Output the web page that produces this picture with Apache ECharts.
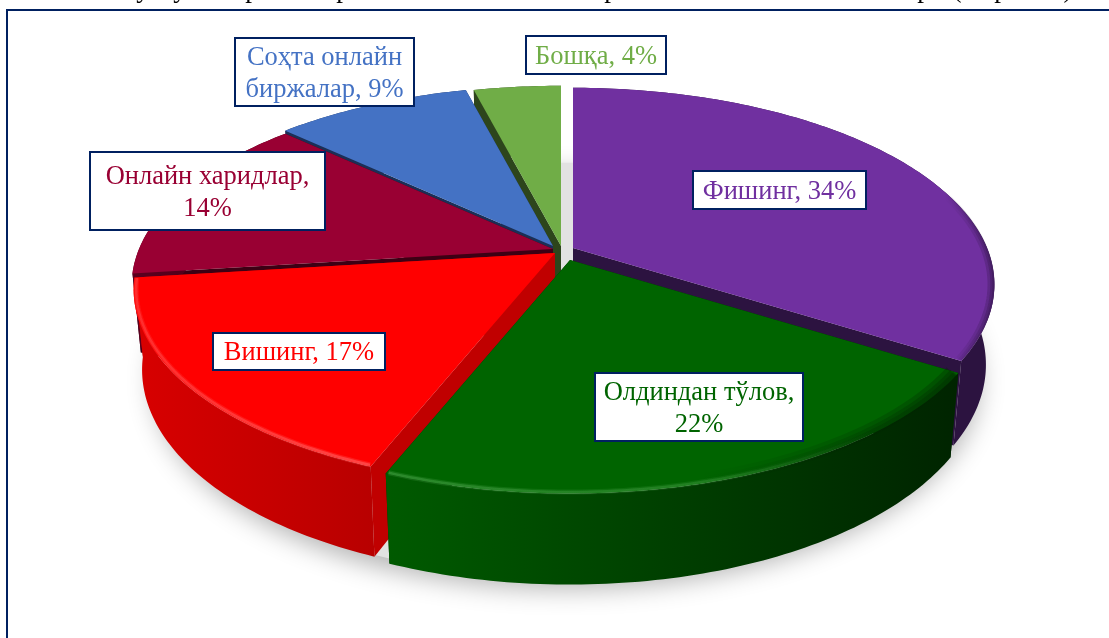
<!DOCTYPE html>
<html><head><meta charset="utf-8">
<style>html,body{margin:0;padding:0;background:#fff}#c{width:1109px;height:638px}</style>
<script src="https://cdn.jsdelivr.net/npm/echarts@6/dist/echarts.min.js"></script>
</head><body><div id="c"></div>
<script>
const categories = ['Фишинг', 'Олдиндан тўлов', 'Вишинг', 'Онлайн харидлар', 'Соҳта онлайн биржалар', 'Бошқа'];
const values = [34, 22, 17, 14, 9, 4];
const labelLines = [['Фишинг, 34%'], ['Олдиндан тўлов,', '22%'], ['Вишинг, 17%'], ['Онлайн харидлар,', '14%'], ['Соҳта онлайн', 'биржалар, 9%'], ['Бошқа, 4%']];
const topColors = ['#7030A0', '#006400', '#FF0000', '#990033', '#4472C4', '#70AD47'];
const textColors = ['#7030A0', '#006400', '#FF0000', '#990033', '#4472C4', '#70AD47'];
const wallColors = ['#2C1340', '#002B00', '#C00000', '#3D0014', '#1B2F56', '#2D451C'];
const sideFrom = ['#2C1340', '#005A00', '#D80000', '#5C001F', '#1B2F56', '#2D451C'];
const sideTo = ['#2C1340', '#002400', '#B80000', '#3D0014', '#1B2F56', '#2D451C'];
const rimGlow = [null, 'rgba(70,160,70,', 'rgba(255,110,110,', null, null, null];
const rimShade = ['rgba(44,19,64,', 'rgba(0,36,0,', null, null, null, null];
const apexX = [573, 570, 555, 553, 553, 561];
const apexY = [248, 260, 253, 249, 246, 246];
const drawOrder = [5, 4, 3, 2, 0, 1];
const labelBoxes = [[693,171,173,38],[595,373,208,68],[213,333,172,37],[90,152,235,78],[235,38,179,68],[526,36,140,38]];
const titleGlyphs = [['у',143],['у',180],['р',252],['р',343],['р',611],['р',924],['(',957],['р',1001],[')',1068]];

const RX = 414, RY = 190, PERSP = 0.186, DEPTH = 78, SHRINK = 0.98;
const FONT = '26.5px "Liberation Serif", "Times New Roman", serif';
const total = values.reduce((a, b) => a + b, 0);

function rimTopAt(i, th, ax, ay) {
  const s = 1 / (1 + PERSP * Math.cos(th));
  return [ax + RX * Math.sin(th) * s, ay - RY * Math.cos(th) * s, s];
}
function rimBotAt(i, th, ax, ay) {
  const p = rimTopAt(i, th, ax, ay);
  return [ax + (p[0] - ax) * SHRINK, ay + (p[1] - ay) * SHRINK + DEPTH * p[2]];
}
function arc(fn, i, a0, a1, ax, ay) {
  const pts = [], n = Math.max(8, Math.ceil((a1 - a0) * 60));
  for (let k = 0; k <= n; k++) {
    const p = fn(i, a0 + (a1 - a0) * k / n, ax, ay);
    pts.push([p[0], p[1]]);
  }
  return pts;
}
function hGrad(stops) {
  return new echarts.graphic.LinearGradient(0, 0, 1, 0, stops.map(s => ({offset: s[0], color: s[1]})));
}
function insetArc(i, a0, a1, ax, ay, k) {
  return arc((n, th, x, y) => {
    const p = rimTopAt(n, th, x, y);
    return [x + (p[0] - x) * k, y + (p[1] - y) * k];
  }, i, a0 + 0.004, a1 - 0.004, ax, ay);
}

function renderItem(params, api) {
  const i = params.dataIndex;
  const v = api.value(0);
  let before = 0;
  for (let k = 0; k < i; k++) before += values[k];
  const a0 = before / total * Math.PI * 2, a1 = (before + v) / total * Math.PI * 2;
  const ax = apexX[i], ay = apexY[i];
  const base = drawOrder.indexOf(i) * 10 + 10;
  const rimT = arc(rimTopAt, i, a0, a1, ax, ay), rimB = arc(rimBotAt, i, a0, a1, ax, ay);
  const apexB = [ax, ay + DEPTH];
  const children = [];
  const wall = (th) => {
    const t = rimTopAt(i, th, ax, ay), b = rimBotAt(i, th, ax, ay);
    return {type: 'polygon', z2: base, shape: {points: [[ax, ay], [t[0], t[1]], b, apexB]}, style: {fill: wallColors[i]}};
  };
  children.push(wall(a0), wall(a1));
  children.push({type: 'polygon', z2: base + 1, shape: {points: rimT.concat(rimB.slice().reverse())},
    style: {fill: hGrad([[0, sideFrom[i]], [1, sideTo[i]]])}});
  children.push({type: 'polygon', z2: base + 2, shape: {points: [[ax, ay]].concat(rimT)}, style: {fill: topColors[i]}});
  if (rimShade[i]) {
    const c = rimShade[i], from = i === 0 ? 0.88 : 0.55;
    const layers = i === 0 ? [[0.992, 7], [0.995, 4], [0.998, 2]] : [[0.985, 14], [0.99, 9], [0.994, 5]];
    layers.forEach(l => {
      children.push({type: 'polyline', z2: base + 3, shape: {points: insetArc(i, a0, a1, ax, ay, l[0])},
        style: {fill: null, lineWidth: l[1], opacity: 0.3,
                stroke: hGrad([[0, c + '0)'], [from, c + '0)'], [1, c + '1)']])}});
    });
  }
  if (rimGlow[i]) {
    const c = rimGlow[i];
    [[0.994, 5, 0.25], [0.994, 2.5, 0.5]].forEach(l => {
      children.push({type: 'polyline', z2: base + 4, shape: {points: insetArc(i, a0, a1, ax, ay, l[0])},
        style: {fill: null, lineWidth: l[1], opacity: l[2],
                stroke: hGrad(i === 1 ? [[0, c + '1)'], [0.55, c + '0.7)'], [0.85, c + '0)'], [1, c + '0)']]
                                      : [[0, c + '0.6)'], [1, c + '1)']])}});
    });
  }
  const box = labelBoxes[i], lines = labelLines[i];
  children.push({type: 'rect', z2: 200, shape: {x: box[0], y: box[1], width: box[2], height: box[3]},
    style: {fill: '#fff', stroke: '#002060', lineWidth: 2}});
  children.push({type: 'text', z2: 201, style: {
    text: lines.join('\n'), x: box[0] + box[2] / 2, y: box[1] + box[3] / 2 + 2,
    align: 'center', verticalAlign: 'middle', font: FONT, lineHeight: 32, fill: textColors[i]}});
  return {type: 'group', children};
}

const shadowPts = arc(rimBotAt, 0, 0, Math.PI * 2, 566, 254);

const chart = echarts.init(document.getElementById('c'), null, {renderer: 'canvas'});
chart.setOption({
  animation: false,
  backgroundColor: '#fff',
  graphic: [
    {type: 'rect', z: 0, shape: {x: 7, y: 10, width: 1300, height: 800}, style: {fill: '#fff', stroke: '#002060', lineWidth: 2}},
    {type: 'polygon', z: 1, shape: {points: shadowPts},
      style: {fill: '#e2e2e2', shadowBlur: 26, shadowColor: 'rgba(0,0,0,0.3)', shadowOffsetY: 10}}
  ].concat(titleGlyphs.map(g => ({type: 'text', z: 1,
    style: {text: g[0], x: g[1], y: 3, align: 'center', verticalAlign: 'bottom',
            font: '27px "Liberation Serif", serif', fill: '#000'}}))),
  series: [{
    type: 'custom', coordinateSystem: 'none', z: 5, silent: true, clip: false,
    renderItem,
    data: categories.map((name, i) => ({name, value: [values[i]]}))
  }]
});
</script></body></html>
